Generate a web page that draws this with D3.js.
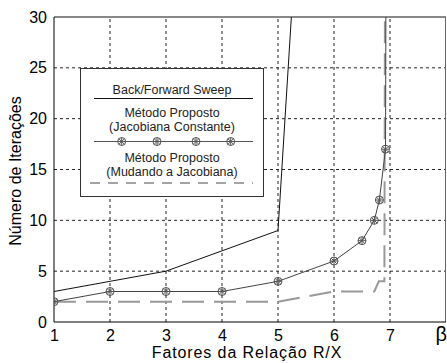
<!DOCTYPE html>
<html lang="pt">
<head>
<meta charset="UTF-8">
<style>
  body { margin: 0; background: #fff; }
  svg { display: block; font-family: "Liberation Sans", Arial, sans-serif; }
  .grid line { stroke: #222; stroke-width: 1; stroke-dasharray: 3,3; }
  .axis path, .axis line { display: none; }
  .axis text { font-size: 16px; fill: #000; }
  .leg text { font-size: 12.5px; fill: #222; text-anchor: middle; }
</style>
<script src="https://d3js.org/d3.v7.min.js"></script>
</head>
<body>
<svg id="chart"></svg>
<script>
// fatores da relação R/X (beta)
var xTicks = [1, 2, 3, 4, 5, 6, 7];
var yTicks = [0, 5, 10, 15, 20, 25, 30];

// Back/Forward Sweep
var bfsX = [1, 2, 3, 4, 5, 5.5];
var bfsY = [3, 4, 5, 7, 9, 53];

// Método Proposto (Jacobiana Constante)
var constX = [1, 2, 3, 4, 5, 6, 6.5, 6.72, 6.81, 6.92, 6.94];
var constY = [2, 3, 3, 3, 4, 6, 8, 10, 12, 17, 60];

// Método Proposto (Mudando a Jacobiana)
var mudX = [1, 2, 3, 4, 5, 6, 6.5, 6.72, 6.8, 6.9, 6.92];
var mudY = [2, 2, 2, 2, 2, 3, 3, 3, 4, 4, 60];

var W = 447, H = 363;
var margin = {top: 17, right: 1, bottom: 41, left: 54};

var svg = d3.select('#chart').attr('width', W).attr('height', H);

var x = d3.scaleLinear().domain([1, 8]).range([margin.left, W - margin.right]);
var y = d3.scaleLinear().domain([0, 30]).range([H - margin.bottom, margin.top]);

svg.append('clipPath').attr('id', 'clip')
  .append('rect')
  .attr('x', x(1)).attr('y', y(30))
  .attr('width', x(8) - x(1)).attr('height', y(0) - y(30));

// grid
var grid = svg.append('g').attr('class', 'grid');
grid.selectAll('.gx').data(xTicks.slice(1)).enter().append('line')
  .attr('x1', function(d) { return x(d); }).attr('x2', function(d) { return x(d); })
  .attr('y1', y(0)).attr('y2', y(30));
grid.selectAll('.gy').data(yTicks.slice(1, -1)).enter().append('line')
  .attr('x1', x(1)).attr('x2', x(8))
  .attr('y1', function(d) { return y(d); }).attr('y2', function(d) { return y(d); });

// axes labels
svg.append('g').attr('class', 'axis')
  .attr('transform', 'translate(0,' + y(0) + ')')
  .call(d3.axisBottom(x).tickValues(xTicks).tickFormat(d3.format('d')).tickSize(0).tickPadding(8));
svg.append('g').attr('class', 'axis')
  .attr('transform', 'translate(' + x(1) + ',0)')
  .call(d3.axisLeft(y).tickValues(yTicks).tickFormat(d3.format('d')).tickSize(0).tickPadding(7));

svg.append('text')
  .attr('x', W).attr('y', 341)
  .attr('text-anchor', 'end')
  .style('font-size', '20px')
  .text('β');

svg.append('text')
  .attr('x', 247).attr('y', 358)
  .attr('text-anchor', 'middle')
  .style('font-size', '16px')
  .style('letter-spacing', '0.9px')
  .text('Fatores da Relação R/X');

svg.append('text')
  .attr('transform', 'translate(21,171) rotate(-90)')
  .attr('text-anchor', 'middle')
  .style('font-size', '16px')
  .text('Número de Iterações');

// frame
svg.append('line').attr('x1', x(1)).attr('x2', x(8)).attr('y1', y(30)).attr('y2', y(30))
  .attr('stroke', '#888').attr('stroke-width', 2);
svg.append('line').attr('x1', x(8) - 0.5).attr('x2', x(8) - 0.5).attr('y1', y(30)).attr('y2', y(0))
  .attr('stroke', '#666');
svg.append('line').attr('x1', x(1)).attr('x2', x(1)).attr('y1', y(30)).attr('y2', y(0))
  .attr('stroke', '#000');
svg.append('line').attr('x1', x(1)).attr('x2', x(8)).attr('y1', y(0)).attr('y2', y(0))
  .attr('stroke', '#000');

// marker: circle with asterisk
function marker(g, cx, cy) {
  var m = g.append('g').attr('transform', 'translate(' + cx + ',' + cy + ')')
    .attr('stroke', '#555').attr('fill', 'none').attr('stroke-width', 1);
  m.append('circle').attr('r', 4);
  [0, 45, 90, 135].forEach(function(a) {
    var r = a * Math.PI / 180;
    m.append('line')
      .attr('x1', -4 * Math.cos(r)).attr('y1', -4 * Math.sin(r))
      .attr('x2', 4 * Math.cos(r)).attr('y2', 4 * Math.sin(r));
  });
}

function pts(xs, ys) {
  return xs.map(function(v, i) { return [v, ys[i]]; });
}

var line = d3.line().x(function(d) { return x(d[0]); }).y(function(d) { return y(d[1]); });
var plot = svg.append('g').attr('clip-path', 'url(#clip)');

plot.append('path').datum(pts(mudX, mudY)).attr('d', line)
  .attr('fill', 'none').attr('stroke', '#999').attr('stroke-width', 2)
  .attr('stroke-dasharray', '22,10');

plot.append('path').datum(pts(bfsX, bfsY)).attr('d', line)
  .attr('fill', 'none').attr('stroke', '#111').attr('stroke-width', 1);

var constPts = pts(constX, constY);
plot.append('path').datum(constPts).attr('d', line)
  .attr('fill', 'none').attr('stroke', '#444').attr('stroke-width', 1);
constPts.filter(function(d) { return d[1] <= 30; }).forEach(function(d) {
  marker(plot, x(d[0]), y(d[1]));
});

// legend
var leg = svg.append('g').attr('class', 'leg');
leg.append('rect').attr('x', 80.5).attr('y', 68.5).attr('width', 183).attr('height', 128)
  .attr('fill', '#fff').attr('stroke', '#333');
var lx = 172;
leg.append('text').attr('x', lx).attr('y', 94).text('Back/Forward Sweep');
leg.append('line').attr('x1', 94).attr('x2', 253).attr('y1', 98.5).attr('y2', 98.5)
  .attr('stroke', '#111');
leg.append('text').attr('x', lx).attr('y', 116.5).text('Método Proposto');
leg.append('text').attr('x', lx).attr('y', 130.5).text('(Jacobiana Constante)');
leg.append('line').attr('x1', 94).attr('x2', 253).attr('y1', 141.5).attr('y2', 141.5)
  .attr('stroke', '#555');
[121.7, 157, 196, 230.7].forEach(function(mx) { marker(leg, mx, 141.5); });
leg.append('text').attr('x', lx).attr('y', 161.5).text('Método Proposto');
leg.append('text').attr('x', lx).attr('y', 175.5).text('(Mudando a Jacobiana)');
leg.append('line').attr('x1', 90).attr('x2', 253).attr('y1', 183).attr('y2', 183)
  .attr('stroke', '#888').attr('stroke-width', 1.5).attr('stroke-dasharray', '10,8');
</script>
</body>
</html>
